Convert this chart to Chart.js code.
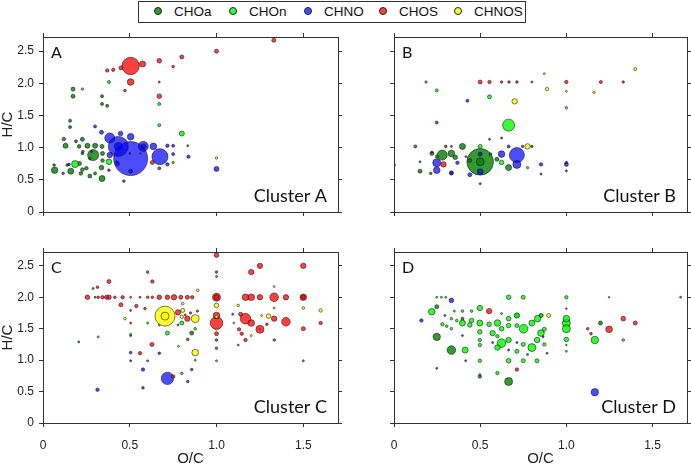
<!DOCTYPE html>
<html>
<head>
<meta charset="utf-8">
<script src="https://cdn.jsdelivr.net/npm/chart.js@4.4.1/dist/chart.umd.min.js"></script>
<style>
  html, body { margin: 0; padding: 0; background: #fff; overflow: hidden; }
  body { width: 691px; height: 466px; position: relative; font-family: "Liberation Sans", Arial, sans-serif; }
  canvas { position: absolute; }
  #legend { position: absolute; left: 138px; top: 1px; width: 386px; height: 20px; border: 1px solid #333; }
  .item { position: absolute; top: 0; height: 20px; line-height: 20px; font-size: 13.5px; color: #111; white-space: nowrap; }
  .dot { display: inline-block; width: 6px; height: 6px; border-radius: 50%; border: 0.6px solid #222; vertical-align: middle; margin: -2px 12px 0 0; }
</style>
</head>
<body>
<div id="legend"></div>
<canvas id="cA" width="345" height="190" style="left:0;top:30px"></canvas>
<canvas id="cB" width="341" height="190" style="left:350px;top:30px"></canvas>
<canvas id="cC" width="345" height="226" style="left:0;top:240px"></canvas>
<canvas id="cD" width="341" height="226" style="left:350px;top:240px"></canvas>
<script>
// classes and colours
const classes = ['CHOa', 'CHOn', 'CHNO', 'CHOS', 'CHNOS'];
const classColors = {
  CHOa: 'rgba(0,128,0,0.8)',
  CHOn: 'rgba(0,255,0,0.8)',
  CHNO: 'rgba(0,0,255,0.7)',
  CHOS: 'rgba(255,0,0,0.75)',
  CHNOS: 'rgba(255,255,0,0.8)'
};

// axis ticks
const xTicks = [0, 0.5, 1, 1.5];
const yTicks = [0, 0.5, 1, 1.5, 2, 2.5];

// points: [O/C, H/C, bubble radius]
const A_CHOa = [[0.173,1.91,2],[0.173,1.80,2],[0.34,1.80,1.5],[0.34,1.68,1.5],[0.37,1.65,1.5],[0.156,1.42,1.5],[0.156,1.32,1.5],[0.12,1.135,1.8],[0.13,1.03,2.5],[0.19,1.10,1.5],[0.227,1.13,2],[0.208,1.02,1.8],[0.256,1.03,2.5],[0.30,1.03,2.5],[0.34,1.02,2],[0.289,0.885,5.5],[0.067,0.65,3.2],[0.064,0.73,1.3],[0.16,0.635,3],[0.21,0.755,2],[0.227,0.66,1.8],[0.25,0.68,1.8],[0.27,0.56,2],[0.30,0.60,1.5],[0.337,0.69,2.3],[0.343,0.80,1.8],[0.23,0.94,1.3],[0.27,0.83,1.3],[0.116,0.60,1.3],[0.139,0.73,1.3],[0.466,0.48,1.3],[0.218,0.60,1.8],[0.343,0.91,2],[0.34,0.52,3],[0.43,0.75,2],[0.67,0.68,1.5]];
const A_CHOn = [[0.38,2.02,1.5],[0.67,1.68,1.5],[0.67,1.35,1.5],[0.80,1.22,2.5],[0.227,1.91,1.2],[0.38,0.78,2.8],[0.75,0.77,1.2],[0.185,0.745,3.5]];
const A_CHNO = [[0.505,0.83,17],[0.434,1.02,10],[0.385,1.15,5],[0.578,1.02,5],[0.674,0.86,8],[0.636,1.02,3.3],[0.505,1.17,3.3],[0.447,1.22,2.3],[0.337,1.24,2],[0.30,1.33,1.5],[0.385,0.885,2.7],[0.505,0.635,2],[0.38,0.65,1.3],[0.717,1.03,1.7],[0.75,1.03,1.5],[0.75,0.90,1.5],[0.838,0.86,1.7],[0.717,0.74,1.7],[0.15,0.74,1.3],[0.227,0.91,1.3],[0.28,0.94,1],[0.50,0.91,1],[0.424,0.78,1],[1.0,0.67,2.5],[0.434,1.02,4],[0.58,1.02,2.5]];
const A_CHOS = [[0.505,2.27,8.7],[0.574,2.30,3],[0.449,2.24,2],[0.405,2.21,1.7],[0.37,2.20,1.7],[0.505,2.02,3.3],[0.67,2.35,2.3],[0.80,2.41,2],[0.75,2.26,1.3],[0.67,2.02,1],[0.472,1.886,1.3],[0.67,1.80,2.3],[0.834,1.03,1],[0.63,0.77,2],[0.56,0.91,0.8],[1.0,2.5,2],[1.33,2.67,2]];
const A_CHNOS = [[1.0,0.84,1.2]];

const B_CHOa = [[0.248,1.39,1.5],[0.124,1.02,1.5],[0.397,1.02,3],[0.5,0.78,13.3],[0.28,0.885,5],[0.333,0.91,3.3],[0.355,0.85,2.3],[0.22,0.91,2],[0.151,0.635,2],[0.151,0.78,1],[0.213,0.60,1.3],[0.665,0.69,3],[0.44,0.80,2],[0.30,1.02,1.3],[0.333,0.60,1.7],[0.597,0.82,2],[0.56,0.90,1.3],[0.25,0.86,1.7],[0.5,0.78,4],[0,0.73,1.5]];
const B_CHOn = [[0.186,2.02,1.2],[0.248,1.89,1.5],[0.554,1.79,2],[1.0,1.62,1.2],[0.665,1.35,6],[0.5,1.02,2],[0.624,0.77,2.3],[0.775,0.69,1.2],[0.56,0.88,1]];
const B_CHNO = [[0.713,0.885,7.5],[0.713,0.74,4],[0.624,0.90,3.3],[0.248,0.765,4],[0.248,0.65,3.3],[0.5,0.90,2],[0.5,0.625,3],[0.44,0.58,2],[0.333,0.61,2],[0.426,1.73,1.5],[0.554,1.13,1],[0.624,1.15,1],[0.665,1.02,1.5],[0.853,0.74,1.7],[1.0,0.74,2],[1.0,0.64,1],[0.853,0.59,1],[0.5,0.44,1],[0.368,0.765,1.7],[0.333,1.02,1],[0.22,0.93,1],[0.746,1.02,1.2],[0.80,1.02,1.2],[1.0,0.77,1.2]];
const B_CHOS = [[0.5,2.02,2],[0.554,2.02,1.7],[0.624,2.02,1.3],[0.667,2.02,1.3],[0.713,2.02,1.3],[0.80,2.02,1],[1.0,2.02,1.7],[1.2,2.02,1.5],[1.33,2.02,1.2],[0.287,0.74,2.7],[0.417,0.86,1]];
const B_CHNOS = [[0.872,2.15,1],[0.888,1.91,1.7],[1.0,1.875,1],[0.70,1.72,2.7],[0.775,1.02,2.7],[1.16,1.86,1.2],[1.40,2.22,1.5]];

const C_CHOa = [[0.206,1.29,1],[0.857,1.43,2],[1.0,1.32,1.3],[0.505,1.39,1]];
const C_CHOn = [[0.80,1.59,2],[0.717,1.43,2],[0.318,1.37,1],[0.603,1.59,1],[0.67,1.56,1],[0.80,0.79,1.3],[0.877,1.5,1.3],[0.877,1.0,1],[1.0,0.99,1],[1.125,1.24,1],[0.505,1.41,1],[1.25,1.49,1]];
const C_CHNO = [[0.717,0.71,6.2],[0.314,0.53,1.7],[0.576,0.85,1.7],[0.576,0.56,1.3],[0.505,1.12,1.3],[0.505,0.99,1],[0.67,1.11,1.3],[0.834,0.66,1.3],[0.857,0.85,1.3],[1.093,1.73,1]];
const C_CHOS = [[0.256,2.0,2.3],[0.30,2.0,1],[0.318,2.0,1.3],[0.343,2.0,1.7],[0.366,2.0,2],[0.38,2.0,2.3],[0.414,2.0,1.3],[0.459,2.0,1.7],[0.505,2.0,1],[0.559,2.0,1],[0.603,2.0,1.3],[0.63,2.0,1.3],[0.67,2.0,2.3],[0.717,2.0,2.3],[0.755,2.0,2.7],[0.794,2.0,2],[0.832,2.0,2],[0.86,2.0,1.7],[1.0,2.0,4],[1.0,2.0,2.5],[1.167,2.0,3.3],[1.2,2.0,3.3],[1.25,2.0,2.7],[1.332,2.0,4.3],[1.40,2.0,2.7],[1.50,2.0,3.3],[1.5,2.0,2],
  [0.289,2.14,1],[0.314,2.16,1.3],[0.38,2.25,2],[0.603,2.40,1.3],[0.63,2.25,1.7],[0.449,1.88,2],[0.538,1.86,1.7],[0.588,1.82,1.3],[0.505,1.79,1],[0.778,1.76,2.7],[0.832,1.66,2.7],[0.505,1.59,1],[0.628,1.25,2],[0.559,1.11,1.7],[0.603,0.99,1],[0.75,0.74,1.7],[0.778,1.56,1],[0.834,1.33,1.3],[0.89,1.78,1.2],[1.0,2.67,2.3],[1.0,2.40,1.3],[1.0,2.33,1],[1.0,1.71,3.3],[1.0,1.59,6.3],[1.0,1.42,2],[1.0,1.19,1.3],[1.2,2.40,2.7],[1.25,2.50,2.7],[1.50,2.50,2.7],[1.139,1.73,2],[1.167,1.66,5.3],[1.2,1.59,3.3],[1.13,1.49,1.7],[1.145,1.42,1.7],[1.167,1.32,1.7],[1.25,1.49,4],[1.29,1.57,1.3],[1.332,1.66,2.7],[1.333,1.32,1.3],[1.40,1.61,4.3],[1.5,1.5,2],[1.5,0.99,1],[1.6,1.59,1.7],[0.85,1.75,1.2],[0.82,1.72,1]];
const C_CHNOS = [[0.703,1.70,10],[0.703,1.70,4],[0.805,1.79,2],[0.805,1.9,1.3],[0.472,1.66,1.3],[0.78,1.22,1],[0.877,1.12,3.3],[0.80,1.69,1.7],[0.892,2.11,1.3],[1.0,1.87,2.3],[1.0,1.69,1.7],[1.0,1.49,1],[0.877,1.66,4],[1.332,2.17,1],[1.125,1.87,1.3],[1.10,1.59,1],[1.2,1.39,1],[1.30,1.70,2.3],[1.332,1.83,1],[1.5,1.83,1.3],[1.6,1.79,1.7],[1.26,1.71,1]];

const D_CHOa = [[0.248,1.85,2],[0.248,1.37,3.7],[0.333,1.16,4.3],[0.416,0.99,1],[0.248,0.87,1],[0.498,0.74,1.7],[0.665,0.66,4],[0.775,1.09,1],[1.198,1.59,2],[0.888,1.11,1],[0.397,1.66,1.5],[0.713,1.71,2]];
const D_CHOn = [[0.248,2.0,1],[0.275,2.0,1],[0.30,2.0,1],[0.665,2.0,2.3],[0.75,2.0,2],[0.219,1.77,3.3],[0.498,1.83,2.7],[0.624,1.74,1],[0.713,1.71,2.7],[0.665,1.66,2.3],[0.80,1.59,3],[0.833,1.66,3.3],[0.853,1.71,2],[0.853,1.43,3.3],[0.83,1.32,2.7],[0.752,1.5,4.3],[0.713,1.55,2],[0.665,1.55,2.3],[0.665,1.32,2.7],[0.60,1.59,3.3],[0.552,1.57,2.3],[0.624,1.5,2.3],[0.572,1.43,2.7],[0.60,1.38,1.7],[0.624,1.27,4.3],[0.60,1.2,2.7],[0.713,1.14,2],[0.75,1.25,2],[0.80,1.20,4],[0.83,0.99,2],[0.75,0.99,2],[0.665,0.99,2.3],[0.60,0.795,1.7],[0.498,0.99,1.7],[0.498,1.32,1.7],[0.498,1.24,1.7],[0.498,1.45,2.3],[0.498,1.59,3],[0.45,1.63,2.3],[0.44,1.56,2.3],[0.413,1.16,3],[0.281,1.57,1.7],[0.306,1.54,1.3],[0.333,1.5,1.3],[0.364,1.63,1.3],[0.333,1.66,1.3],[0.397,1.59,3],[0.45,1.78,1.3],[0.397,1.78,1.3],[0.35,1.78,1],[1.0,2.0,1.7],[1.0,1.66,3.3],[1.0,1.59,4],[1.0,1.5,4],[1.0,1.33,2.3],[1.0,1.14,1],[0.872,1.49,2],[0.872,1.25,1.7],[0.855,1.71,1.7],[1.165,1.32,3.7],[1.33,1.32,1.3],[0.498,0.77,1]];
const D_CHNO = [[0.333,1.95,2.3],[0.159,1.63,1.7],[0.295,1.71,1],[0.397,1.39,1],[0.572,1.28,1],[0.665,1.16,1],[0.713,1.28,1],[1.0,1.82,0.8],[1.165,0.49,3.7],[0.865,1.37,1]];
const D_CHOS = [[0.713,0.85,1.7],[0.552,1.78,2.7],[1.0,1.24,0.8],[1.124,1.5,1.3],[1.143,1.42,1.3],[1.248,1.49,3.3],[1.248,2.0,0.8],[1.33,1.66,2.3],[1.40,1.59,2],[1.663,2.0,1]];
const D_CHNOS = [[0.897,1.71,2]];

const FONT = '"Liberation Sans", Arial, sans-serif';

// legend (html)
const legendEl = document.getElementById('legend');
classes.forEach((c, i) => {
  const it = document.createElement('div');
  it.className = 'item';
  it.style.left = (15 + i * 75) + 'px';
  it.innerHTML = '<span class="dot" style="background:' + classColors[c] + '"></span>' + c;
  legendEl.appendChild(it);
});

// panel letter and cluster name
const panelText = {
  id: 'panelText',
  afterDraw(chart, args, opts) {
    const { ctx, chartArea: a } = chart;
    ctx.save();
    ctx.fillStyle = '#111';
    ctx.font = '16px Lato';
    ctx.textBaseline = 'top';
    ctx.textAlign = 'left';
    ctx.fillText(opts.letter, a.left + 8, a.top + 8);
    ctx.font = '18px Lato';
    ctx.textAlign = 'right';
    ctx.textBaseline = 'alphabetic';
    ctx.fillText(opts.name, a.right - 11, a.bottom - 10);
    ctx.restore();
  }
};

function toPoints(arr) {
  // big bubbles first so small ones stay visible
  return arr.slice().sort((p, q) => q[2] - p[2]).map(p => ({ x: p[0], y: p[1], r: p[2] }));
}

function axis(pos, showLabels, size, title) {
  const horiz = pos === 'top' || pos === 'bottom';
  return {
    type: 'linear',
    position: pos,
    min: 0,
    max: horiz ? 1.7 : 2.72,
    afterBuildTicks: s => { s.ticks = (horiz ? xTicks : yTicks).map(v => ({ value: v })); },
    ticks: {
      display: showLabels,
      color: '#222',
      padding: horiz ? 11 : 5,
      maxRotation: 0,
      autoSkip: false,
      font: { family: FONT, size: 12 }
    },
    grid: { drawOnChartArea: false, drawTicks: true, tickLength: 4, color: '#333', lineWidth: 1 },
    border: { display: true, color: '#333', width: 1 },
    title: {
      display: !!title,
      text: title || '',
      color: '#222',
      padding: 0,
      font: { family: FONT, size: 15, lineHeight: 1 }
    },
    afterFit: s => {
      if (horiz) s.height = size; else s.width = size;
      // fixed plot frame: no extra room for edge labels
      s.paddingTop = s.paddingBottom = s.paddingLeft = s.paddingRight = 0;
    }
  };
}

function makePanel(id, sets, cfg) {
  const order = ['CHNOS', 'CHOS', 'CHNO', 'CHOn', 'CHOa'];
  new Chart(document.getElementById(id), {
    type: 'bubble',
    data: {
      datasets: order.map(c => ({
        label: c,
        data: toPoints(sets[c]),
        backgroundColor: classColors[c],
        borderColor: '#1a1a1a',
        borderWidth: 0.6
      }))
    },
    options: {
      responsive: false,
      animation: false,
      events: [],
      layout: { padding: 0, autoPadding: false },
      scales: {
        x: axis('bottom', cfg.xLabels, cfg.bottom, cfg.xLabels ? 'O/C' : null),
        x2: axis('top', false, cfg.top),
        y: axis('left', cfg.yLabels, cfg.left, cfg.yLabels ? 'H/C' : null),
        y2: axis('right', false, cfg.right)
      },
      plugins: {
        legend: { display: false },
        tooltip: { enabled: false },
        panelText: { letter: cfg.letter, name: cfg.name }
      }
    },
    plugins: [panelText]
  });
}

makePanel('cA', { CHOa: A_CHOa, CHOn: A_CHOn, CHNO: A_CHNO, CHOS: A_CHOS, CHNOS: A_CHNOS },
  { letter: 'A', name: 'Cluster A', xLabels: false, yLabels: true, left: 43, right: 7, top: 7, bottom: 8 });
makePanel('cB', { CHOa: B_CHOa, CHOn: B_CHOn, CHNO: B_CHNO, CHOS: B_CHOS, CHNOS: B_CHNOS },
  { letter: 'B', name: 'Cluster B', xLabels: false, yLabels: false, left: 44, right: 4, top: 7, bottom: 8 });
makePanel('cC', { CHOa: C_CHOa, CHOn: C_CHOn, CHNO: C_CHNO, CHOS: C_CHOS, CHNOS: C_CHNOS },
  { letter: 'C', name: 'Cluster C', xLabels: true, yLabels: true, left: 43, right: 7, top: 12, bottom: 43 });
makePanel('cD', { CHOa: D_CHOa, CHOn: D_CHOn, CHNO: D_CHNO, CHOS: D_CHOS, CHNOS: D_CHNOS },
  { letter: 'D', name: 'Cluster D', xLabels: true, yLabels: false, left: 44, right: 4, top: 12, bottom: 43 });
</script>
</body>
</html>
